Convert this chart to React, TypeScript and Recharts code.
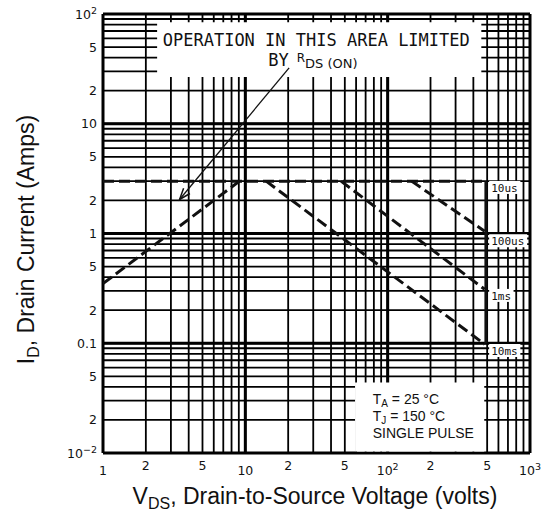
import React from "react";
import { LineChart, Line, XAxis, YAxis, CartesianGrid, ReferenceArea, ReferenceDot } from "recharts";

// grid (log-log paper)
const gridV = [1, 2, 3, 4, 5, 6, 7, 8, 9, 10, 20, 30, 40, 50, 60, 70, 80, 90, 100, 200, 300, 400, 500, 600, 700, 800, 900, 1000];
const gridI = [
  0.01, 0.02, 0.03, 0.04, 0.05, 0.06, 0.07, 0.08, 0.09, 0.1, 0.2, 0.3, 0.4, 0.5, 0.6, 0.7, 0.8, 0.9, 1, 2, 3, 4, 5, 6, 7, 8,
  9, 10, 20, 30, 40, 50, 60, 70, 80, 90, 100,
];
const decadeV = [1, 10, 100, 1000];
const decadeI = [0.01, 0.1, 1, 10, 100];

const vTicks = [1, 2, 5, 10, 20, 50, 100, 200, 500, 1000];
const vTickLabels = ["1", "2", "5", "10", "2", "5", "10^2", "2", "5", "10^3"];
const iTicks = [0.01, 0.02, 0.05, 0.1, 0.2, 0.5, 1, 2, 5, 10, 20, 50, 100];
const iTickLabels = ["10^-2", "2", "5", "0.1", "2", "5", "1", "2", "5", "10", "2", "5", "10^2"];

// safe operating area boundaries
const rdsOn = [
  { v: 1, i: 0.35 },
  { v: 9.1, i: 3 },
];
const limit10us = [
  { v: 1, i: 3 },
  { v: 490, i: 3 },
];
const limit100us = [
  { v: 147, i: 3 },
  { v: 480, i: 1.05 },
];
const limit1ms = [
  { v: 47, i: 3 },
  { v: 480, i: 0.31 },
];
const limit10ms = [
  { v: 14, i: 3 },
  { v: 480, i: 0.098 },
];
const bvdss = [
  { v: 490, i: 3 },
  { v: 490, i: 0.1 },
];
const pointer = [
  { v: 20.3, i: 32.3 },
  { v: 3.45, i: 2.04 },
];

const pulseLabels = ["10us", "100us", "1ms", "10ms"];
const pulseLabelI = [2.6, 0.85, 0.27, 0.085];

const ink = "#111";
const dash = "11 5";

function TickText({ x, y, label, anchor }: { x: number; y: number; label: string; anchor: "middle" | "end" }) {
  const [base, sup] = label.split("^");
  return (
    <text x={x} y={y} textAnchor={anchor} fontFamily="DejaVu Sans" fontSize={12.5} fill={ink}>
      <tspan>{base}</tspan>
      {sup && (
        <tspan dy={-5} fontSize={9.5}>
          {sup.replace("-", "\u2212")}
        </tspan>
      )}
    </text>
  );
}

function XTick(props: any) {
  const idx = vTicks.indexOf(props.payload.value);
  const label = vTickLabels[idx] ?? "";
  const decade = label === "1" || label.startsWith("10");
  return <TickText x={props.x} y={453 + (decade ? 22 : 17)} label={label} anchor="middle" />;
}

function YTick(props: any) {
  const idx = iTicks.findIndex((t) => Math.abs(t - props.payload.value) < 1e-9);
  const label = iTickLabels[idx] ?? "";
  return <TickText x={97} y={props.y + 4.5} label={label} anchor="end" />;
}

function pointerHead({ cx, cy, index }: any) {
  if (index !== 1) return <g key={"p" + index} />;
  const ang = Math.atan2(-132, 110);
  const len = 12;
  const a1 = ang + 0.35;
  const a2 = ang - 0.35;
  return (
    <path
      key="head"
      d={`M${cx + len * Math.cos(a1)},${cy + len * Math.sin(a1)} L${cx},${cy} L${cx + len * Math.cos(a2)},${cy + len * Math.sin(a2)}`}
      stroke={ink}
      strokeWidth={1.5}
      fill="none"
    />
  );
}

export default function App() {
  return (
    <div style={{ position: "absolute", left: 0, top: 0, width: 555, height: 515, background: "#fff" }}>
      <LineChart width={555} height={515} margin={{ top: 14, right: 25, bottom: 32, left: 63 }}>
        <CartesianGrid verticalValues={gridV} horizontalValues={gridI} stroke="#000" strokeWidth={1.8} />
        <CartesianGrid verticalValues={decadeV} horizontalValues={decadeI} stroke="#000" strokeWidth={3} />
        <XAxis
          dataKey="v"
          type="number"
          scale="log"
          domain={[1, 1000]}
          allowDataOverflow
          ticks={vTicks}
          tick={<XTick />}
          tickSize={0}
          tickMargin={0}
          axisLine={false}
          tickLine={false}
          height={30}
          interval={0}
        />
        <YAxis
          dataKey="i"
          type="number"
          scale="log"
          domain={[0.01, 100]}
          allowDataOverflow
          ticks={iTicks}
          tick={<YTick />}
          tickSize={0}
          tickMargin={0}
          axisLine={false}
          tickLine={false}
          width={40}
          interval={0}
        />
        <ReferenceArea x1={2.4} x2={455} y1={26.7} y2={84} fill="#fff" fillOpacity={1} stroke="none" />
        <ReferenceArea x1={59} x2={477} y1={0.0103} y2={0.044} fill="#fff" fillOpacity={1} stroke="none" />

        <Line data={limit10us} dataKey="i" stroke={ink} strokeWidth={3} strokeDasharray={dash} dot={false} isAnimationActive={false} />
        <Line data={rdsOn} dataKey="i" stroke={ink} strokeWidth={3} strokeDasharray={dash} dot={false} isAnimationActive={false} />
        <Line data={limit100us} dataKey="i" stroke={ink} strokeWidth={3} strokeDasharray={dash} dot={false} isAnimationActive={false} />
        <Line data={limit1ms} dataKey="i" stroke={ink} strokeWidth={3} strokeDasharray={dash} dot={false} isAnimationActive={false} />
        <Line data={limit10ms} dataKey="i" stroke={ink} strokeWidth={3} strokeDasharray={dash} dot={false} isAnimationActive={false} />
        <Line data={bvdss} dataKey="i" stroke={ink} strokeWidth={3} dot={false} isAnimationActive={false} />
        <Line data={pointer} dataKey="i" stroke={ink} strokeWidth={1.3} dot={pointerHead} isAnimationActive={false} />

        {pulseLabels.map((lab, k) => (
          <ReferenceDot
            key={lab}
            x={680}
            y={pulseLabelI[k]}
            r={0}
            shape={({ cx, cy }: any) => (
              <g>
                <rect x={cx - 17} y={cy - 7} width={lab.length * 6.8 + 4} height={13} fill="#fff" />
                <text x={cx - 15} y={cy + 4} fontFamily="DejaVu Sans Mono" fontSize={11} fill={ink}>
                  {lab}
                </text>
              </g>
            )}
          />
        ))}

        <ReferenceDot
          x={31.5}
          y={58}
          r={0}
          shape={({ cx, cy }: any) => (
            <g fill={ink}>
              <text x={cx} y={cy + 6} textAnchor="middle" fontFamily="DejaVu Sans Mono" fontSize={17}>
                OPERATION IN THIS AREA LIMITED
              </text>
              <text x={cx - 48} y={cy + 26} fontFamily="DejaVu Sans Mono" fontSize={17}>
                BY
                <tspan dx={8} dy={-4} fontFamily="DejaVu Sans" fontSize={12}>
                  R
                </tspan>
                <tspan dy={6} fontFamily="DejaVu Sans" fontSize={13}>
                  DS (ON)
                </tspan>
              </text>
            </g>
          )}
        />

        <ReferenceDot
          x={78.5}
          y={0.031}
          r={0}
          shape={({ cx, cy }: any) => (
            <g fill={ink} fontFamily="Liberation Sans" fontSize={14}>
              <text x={cx} y={cy + 5}>
                T<tspan fontSize={10} dy={3}>A</tspan>
                <tspan dy={-3}> = 25 °C</tspan>
              </text>
              <text x={cx} y={cy + 22}>
                T<tspan fontSize={10} dy={3}>J</tspan>
                <tspan dy={-3}> = 150 °C</tspan>
              </text>
              <text x={cx} y={cy + 39}>SINGLE PULSE</text>
            </g>
          )}
        />
      </LineChart>

      <div
        style={{
          position: "absolute",
          left: 65,
          top: 485,
          width: 500,
          textAlign: "center",
          fontFamily: "Liberation Sans",
          fontSize: 23,
          lineHeight: "23px",
          color: ink,
          whiteSpace: "nowrap",
        }}
      >
        V<span style={{ fontSize: 16, position: "relative", top: 5 }}>DS</span>, Drain-to-Source Voltage (volts)
      </div>
      <div
        style={{
          position: "absolute",
          left: 27 - 150,
          top: 238 - 11,
          width: 300,
          textAlign: "center",
          fontFamily: "Liberation Sans",
          fontSize: 23,
          lineHeight: "23px",
          color: ink,
          whiteSpace: "nowrap",
          transform: "rotate(-90deg)",
        }}
      >
        I<span style={{ fontSize: 16, position: "relative", top: 5 }}>D</span>, Drain Current (Amps)
      </div>
    </div>
  );
}
